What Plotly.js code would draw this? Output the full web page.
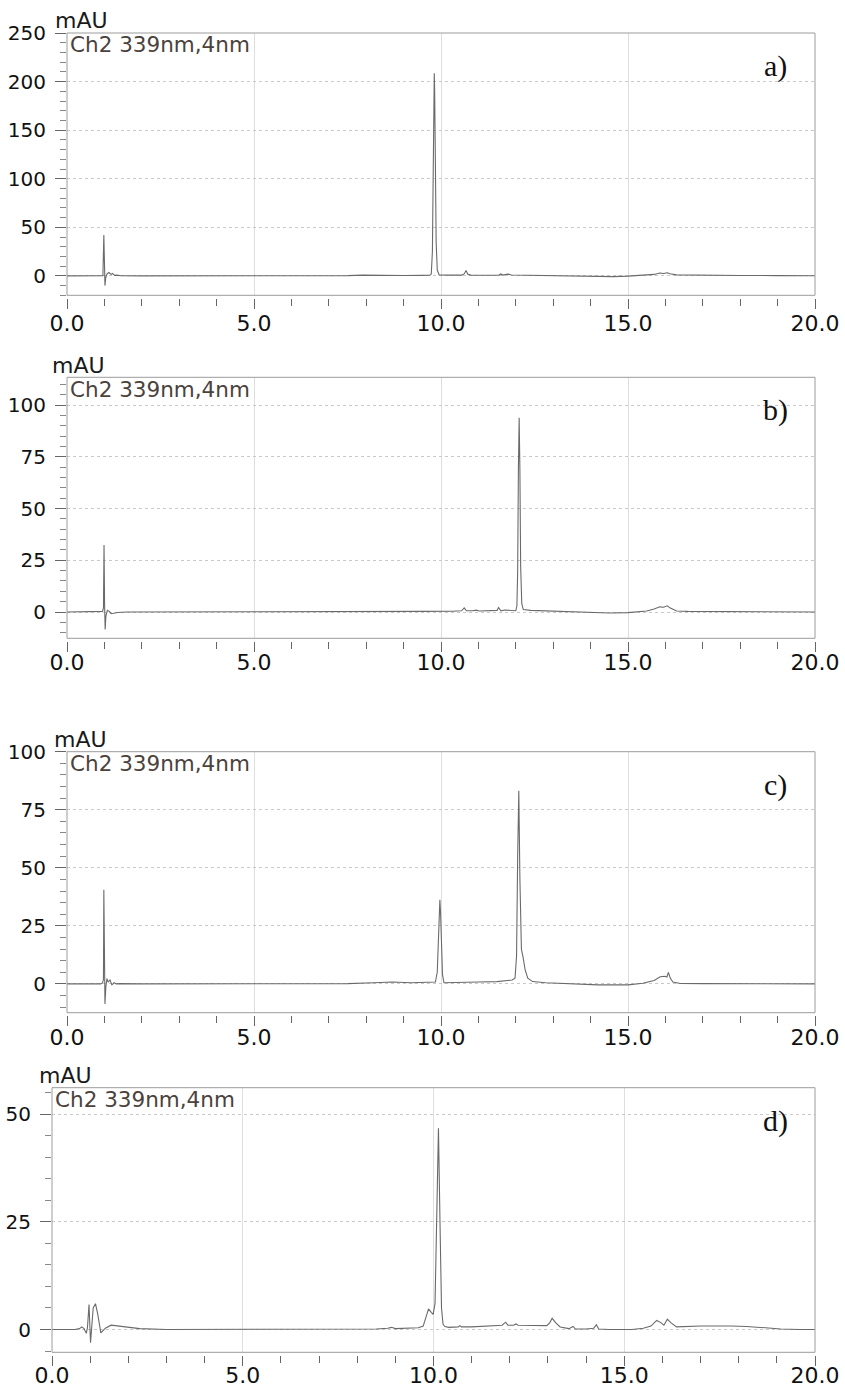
<!DOCTYPE html>
<html>
<head>
<meta charset="utf-8">
<script src="https://cdn.plot.ly/plotly-3.0.1.min.js"></script>
<style>html,body{margin:0;padding:0;background:#fff;}#chart{width:845px;height:1389px;}</style>
</head>
<body>
<div id="chart"></div>
<script>
// ---- Data (retention time in min, absorbance in mAU) ----
const channelLabel = "Ch2 339nm,4nm";
const unitLabel = "mAU";
const panelLabels = ["a)", "b)", "c)", "d)"];

const a_time = [0.0, 0.5, 0.9, 0.96, 0.985, 1.0, 1.015, 1.035, 1.07, 1.12, 1.18, 1.22, 1.27, 1.33, 1.45, 2.0, 3.0, 4.0, 5.0, 6.5, 7.5, 7.9, 8.1, 8.5, 9.0, 9.5, 9.7, 9.74, 9.77, 9.79, 9.81, 9.82, 9.83, 9.85, 9.87, 9.9, 9.95, 10.2, 10.55, 10.62, 10.67, 10.72, 10.8, 11.3, 11.55, 11.6, 11.65, 11.75, 11.8, 11.88, 12.2, 12.8, 13.4, 13.8, 14.2, 14.6, 15.0, 15.4, 15.7, 15.85, 15.95, 16.05, 16.12, 16.3, 16.6, 17.2, 18.0, 19.0, 20.0];
const a_signal = [0, 0, 0, 0.3, 42, 5, -10, -2, 2, 3.5, 1.5, 2.5, 0.5, 0.8, 0.2, 0, 0, 0, 0, 0.2, 0.3, 0.8, 0.6, 0.3, 0.4, 0.5, 0.6, 2, 25, 100, 190, 208.5, 192, 115, 35, 6, 1, 0.8, 0.8, 2, 5.5, 1.5, 0.8, 0.6, 0.8, 2, 0.8, 1.5, 1.8, 0.9, 0.7, 0.5, 0.3, -0.5, -0.8, -0.8, -0.3, 0.3, 1.5, 3, 2.5, 3.2, 2.2, 1, 0.8, 0.8, 0.4, 0.3, 0.2];

const b_time = [0.0, 0.9, 0.95, 0.975, 0.99, 1.005, 1.02, 1.04, 1.08, 1.13, 1.18, 1.25, 1.35, 1.6, 3.0, 6.0, 8.0, 9.5, 10.3, 10.55, 10.62, 10.68, 10.85, 10.94, 11.02, 11.4, 11.5, 11.54, 11.6, 11.7, 11.8, 11.9, 12.0, 12.03, 12.05, 12.07, 12.09, 12.11, 12.13, 12.16, 12.2, 12.4, 13.0, 13.5, 14.0, 14.5, 15.0, 15.5, 15.7, 15.85, 15.95, 16.05, 16.12, 16.3, 16.6, 17.5, 18.5, 20.0];
const b_signal = [0, 0, 0.3, 2, 32.4, 4, -8.4, -2, 0.8, 0.3, -0.8, -0.6, -0.2, 0, 0, 0, 0.1, 0.3, 0.4, 0.6, 2.0, 0.6, 0.6, 0.9, 0.5, 0.5, 0.8, 2.2, 0.6, 1.0, 0.8, 0.6, 0.6, 3, 20, 70, 93.9, 68, 22, 4, 1.2, 0.8, 0.4, 0, -0.4, -0.5, -0.3, 0.5, 1.5, 2.5, 2.3, 3.0, 2.0, 0.5, 0.3, 0.2, 0.1, 0];

const c_time = [0.0, 0.9, 0.95, 0.975, 0.985, 1.0, 1.015, 1.04, 1.07, 1.1, 1.15, 1.2, 1.26, 1.32, 1.4, 2.0, 4.0, 6.0, 7.5, 8.2, 8.7, 9.2, 9.7, 9.85, 9.9, 9.93, 9.97, 9.99, 10.01, 10.04, 10.08, 10.3, 11.0, 11.5, 11.9, 11.98, 12.02, 12.05, 12.08, 12.11, 12.15, 12.2, 12.25, 12.32, 12.45, 12.8, 13.5, 14.2, 15.0, 15.4, 15.7, 15.86, 15.98, 16.04, 16.08, 16.13, 16.2, 16.4, 17.0, 18.5, 20.0];
const c_signal = [0, 0, 0.4, 2, 40.5, 3, -8.6, -1, 2.3, 0.8, 1.7, -0.4, 0.5, 0, 0.1, 0, 0, 0, 0.1, 0.5, 0.8, 0.5, 0.6, 0.8, 5, 20, 36.2, 30, 15, 4, 0.5, 0.5, 0.8, 1.0, 1.7, 2.5, 12, 55, 83.2, 45, 15, 11, 6, 2.5, 1, 0.5, 0, -0.4, -0.4, 0.3, 1.5, 3.1, 3.3, 3.0, 5.0, 2.5, 0.8, 0.2, 0.1, 0, 0];

const d_time = [0.0, 0.6, 0.72, 0.78, 0.84, 0.9, 0.93, 0.97, 1.01, 1.04, 1.08, 1.14, 1.2, 1.28, 1.4, 1.55, 1.8, 2.3, 3.0, 5.0, 7.0, 8.5, 8.8, 8.9, 9.0, 9.6, 9.73, 9.8, 9.87, 9.94, 9.99, 10.04, 10.08, 10.13, 10.17, 10.21, 10.25, 10.3, 10.4, 10.65, 10.69, 10.73, 11.0, 11.6, 11.8, 11.89, 11.95, 12.1, 12.16, 12.22, 12.6, 12.97, 13.05, 13.11, 13.2, 13.32, 13.55, 13.66, 13.72, 14.0, 14.2, 14.27, 14.33, 14.6, 15.2, 15.5, 15.7, 15.85, 15.96, 16.04, 16.13, 16.22, 16.37, 17.0, 17.8, 18.2, 18.7, 19.1, 19.6, 20.0];
const d_signal = [0, 0, 0.2, 0.6, 0.2, -0.9, 0.5, 5.8, -3.1, 1.0, 5.0, 6.0, 3.5, -0.8, 0.3, 1.0, 0.7, 0.2, 0, 0, 0, 0.1, 0.3, 0.5, 0.2, 0.4, 0.8, 3.0, 4.8, 4.0, 3.5, 6, 25, 46.8, 25, 5, 1.2, 0.7, 0.5, 0.6, 0.9, 0.6, 0.6, 0.9, 1.0, 1.7, 1.0, 1.0, 1.3, 1.0, 0.9, 0.9, 1.6, 2.6, 1.6, 0.6, 0.2, 0.7, 0.1, 0.1, 0.3, 1.1, 0.1, 0.0, 0.0, 0.3, 0.8, 2.1, 1.6, 1.0, 2.4, 1.6, 0.6, 0.8, 0.8, 0.7, 0.4, 0.1, 0, 0];

const yRanges = [[-20, 250], [-12.7, 113.4], [-12.4, 100], [-5.3, 56.2]];
const yMajor = [50, 25, 25, 25];
const yMinor = [10, 5, 5, 5];

// ---- Layout geometry (pixels) ----
const W = 845, H = 1389;
const panels = [
  {time: a_time, signal: a_signal, top: 33, bottom: 295.3, left: 67, mau: 53, xstand: -4},
  {time: b_time, signal: b_signal, top: 377.3, bottom: 638.3, left: 67, mau: 50, xstand: -8},
  {time: c_time, signal: c_signal, top: 751.7, bottom: 1012.7, left: 67, mau: 52, xstand: -8},
  {time: d_time, signal: d_signal, top: 1087.7, bottom: 1352.3, left: 52, mau: 37, xstand: -9}
];
const right = 815;

const data = [];
const layout = {
  width: W, height: H,
  margin: {l: 0, r: 0, t: 0, b: 0},
  paper_bgcolor: '#ffffff', plot_bgcolor: '#ffffff',
  showlegend: false,
  annotations: [], shapes: []
};

const tickFont = {family: 'DejaVu Sans, Liberation Sans, Arial, sans-serif', color: '#111111'};

panels.forEach((p, i) => {
  const n = i + 1;
  const xa = n === 1 ? 'x' : 'x' + n;
  const ya = n === 1 ? 'y' : 'y' + n;
  data.push({
    type: 'scatter', mode: 'lines',
    x: p.time, y: p.signal,
    xaxis: xa, yaxis: ya,
    line: {color: '#6a6a6a', width: 1.1},
    hoverinfo: 'skip'
  });
  const yDom = [1 - p.bottom / H, 1 - p.top / H];
  layout['xaxis' + (n === 1 ? '' : n)] = {
    domain: [p.left / W, right / W],
    range: [0, 20],
    anchor: 'free',
    position: 1 - (p.bottom + 2.5) / H,
    tick0: 0, dtick: 5, tickformat: '.1f',
    ticks: 'outside', ticklen: 10, tickwidth: 1, tickcolor: '#666',
    minor: {dtick: 1, ticks: 'outside', ticklen: 7, tickwidth: 1, tickcolor: '#666', showgrid: false},
    showgrid: true, gridcolor: '#dedede', gridwidth: 1,
    showline: false, zeroline: false,
    tickfont: Object.assign({size: 22}, tickFont),
    ticklabelstandoff: p.xstand,
    fixedrange: true
  };
  layout['yaxis' + (n === 1 ? '' : n)] = {
    domain: yDom,
    anchor: xa,
    range: yRanges[i],
    tick0: 0, dtick: yMajor[i],
    ticks: 'outside', ticklen: 11, tickwidth: 1, tickcolor: '#666',
    minor: {dtick: yMinor[i], tick0: 0, ticks: 'outside', ticklen: 6, tickwidth: 1, tickcolor: '#888', showgrid: false},
    showgrid: true, gridcolor: '#c9c9c9', griddash: 'dot', gridwidth: 1,
    showline: false, zeroline: false,
    tickfont: Object.assign({size: 20}, tickFont),
    ticklabelstandoff: 5,
    fixedrange: true
  };
  layout.shapes.push({
    type: 'rect', xref: xa + ' domain', yref: ya + ' domain',
    x0: 0, x1: 1, y0: 0, y1: 1,
    line: {color: '#9c9c9c', width: 1}, fillcolor: 'rgba(0,0,0,0)', layer: 'above'
  });
  layout.annotations.push({
    xref: 'paper', yref: 'paper', x: p.mau / W, y: 1 - (p.top - 12) / H,
    xanchor: 'left', yanchor: 'middle', showarrow: false,
    text: unitLabel,
    font: {family: 'DejaVu Sans, Liberation Sans, sans-serif', size: 22, color: '#1a1a1a'}
  });
  layout.annotations.push({
    xref: 'paper', yref: 'paper', x: (p.left + 1) / W, y: 1 - (p.top + 12) / H,
    xanchor: 'left', yanchor: 'middle', showarrow: false,
    text: channelLabel,
    font: {family: 'DejaVu Sans, Liberation Sans, sans-serif', size: 21.5, color: '#4b423c'}
  });
  layout.annotations.push({
    xref: 'paper', yref: 'paper', x: 775 / W, y: 1 - (p.top + 33) / H,
    xanchor: 'center', yanchor: 'middle', showarrow: false,
    text: panelLabels[i],
    font: {family: 'Liberation Serif, DejaVu Serif, serif', size: 30, color: '#111111'}
  });
});

Plotly.newPlot('chart', data, layout, {staticPlot: true, displayModeBar: false});
</script>
</body>
</html>
